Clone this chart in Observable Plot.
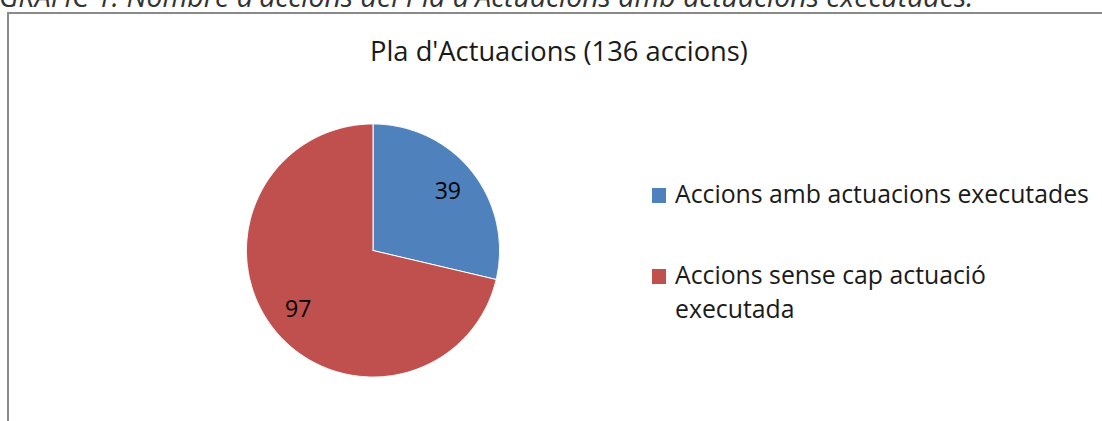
<!DOCTYPE html>
<html>
<head>
<meta charset="utf-8">
<script src="https://cdn.jsdelivr.net/npm/d3@7"></script>
<script src="https://cdn.jsdelivr.net/npm/@observablehq/plot@0.6"></script>
<style>
  html, body { margin: 0; padding: 0; background: #fff; }
  #chart { position: relative; width: 1102px; height: 421px; overflow: hidden; }
  #chart svg { position: absolute; left: 0; top: 0; }
</style>
</head>
<body>
<div id="chart"></div>
<script>
// ---- data ----
const categories = ["Accions amb actuacions executades", "Accions sense cap actuació executada"];
const values = [39, 97];
const colors = ["#4F81BD", "#C0504D"];
const chartTitle = "Pla d'Actuacions (136 accions)";
const caption = "GRÀFIC 1. Nombre d'accions del Pla d'Actuacions amb actuacions executades.";
const legendLines = [["Accions amb actuacions executades"], ["Accions sense cap actuació", "executada"]];

// ---- build slices ----
const rows = categories.map((c, i) => ({key: c, value: values[i]}));
const arcs = d3.pie().sort(null).value(d => d.value)(rows);
const pts = [];
for (const a of arcs) {
  pts.push({key: a.data.key, x: 0, y: 0});
  const n = Math.max(2, Math.ceil((a.endAngle - a.startAngle) / (Math.PI / 360)));
  for (let k = 0; k <= n; k++) {
    const t = a.startAngle + (a.endAngle - a.startAngle) * k / n;
    pts.push({key: a.data.key, x: Math.sin(t), y: Math.cos(t)});
  }
  pts.push({key: a.data.key, x: 0, y: 0});
}
const labels = arcs.map(a => {
  const m = (a.startAngle + a.endAngle) / 2;
  return {text: String(a.data.value), x: 0.755 * Math.sin(m), y: 0.755 * Math.cos(m)};
});

const plot = Plot.plot({
  width: 1102,
  height: 421,
  margin: 0,
  x: {domain: [-1, 1], range: [246, 499], axis: null},
  y: {domain: [-1, 1], range: [376.5, 123.5], axis: null},
  color: {domain: categories, range: colors},
  style: {background: "transparent"},
  marks: [
    Plot.line(pts, {x: "x", y: "y", z: "key", fill: "key", stroke: "white", strokeWidth: 1, curve: "linear"}),
    Plot.text(labels, {x: "x", y: "y", text: "text", fontSize: 23, fill: "#000", fontFamily: "Open Sans"})
  ]
});
document.getElementById("chart").appendChild(plot);

// ---- annotations: caption, frame, title, legend ----
const svg = d3.select(plot);
const color = plot.scale("color");
svg.append("text")
  .attr("x", -1).attr("y", 7)
  .attr("text-anchor", "start")
  .attr("font-family", "Open Sans").attr("font-style", "italic")
  .attr("font-size", 28.5).attr("fill", "#333")
  .text(caption);
svg.append("path")
  .attr("d", "M8,421V13H1102")
  .attr("fill", "none").attr("stroke", "#8a8a8a").attr("stroke-width", 2);
svg.append("text")
  .attr("x", 559).attr("y", 61)
  .attr("text-anchor", "middle")
  .attr("font-family", "Open Sans").attr("font-size", 27.3).attr("fill", "#1a1a1a")
  .text(chartTitle);
const legendY = [203, 284];
categories.forEach((c, i) => {
  const g = svg.append("g");
  g.append("rect").attr("x", 652).attr("y", legendY[i] - 15).attr("width", 14).attr("height", 15)
    .attr("fill", color.apply(c));
  legendLines[i].forEach((ln, j) => {
    g.append("text")
      .attr("x", 675).attr("y", legendY[i] + j * 34)
      .attr("text-anchor", "start")
      .attr("font-family", "Open Sans").attr("font-size", 24.8).attr("fill", "#1a1a1a")
      .text(ln);
  });
});
</script>
</body>
</html>
